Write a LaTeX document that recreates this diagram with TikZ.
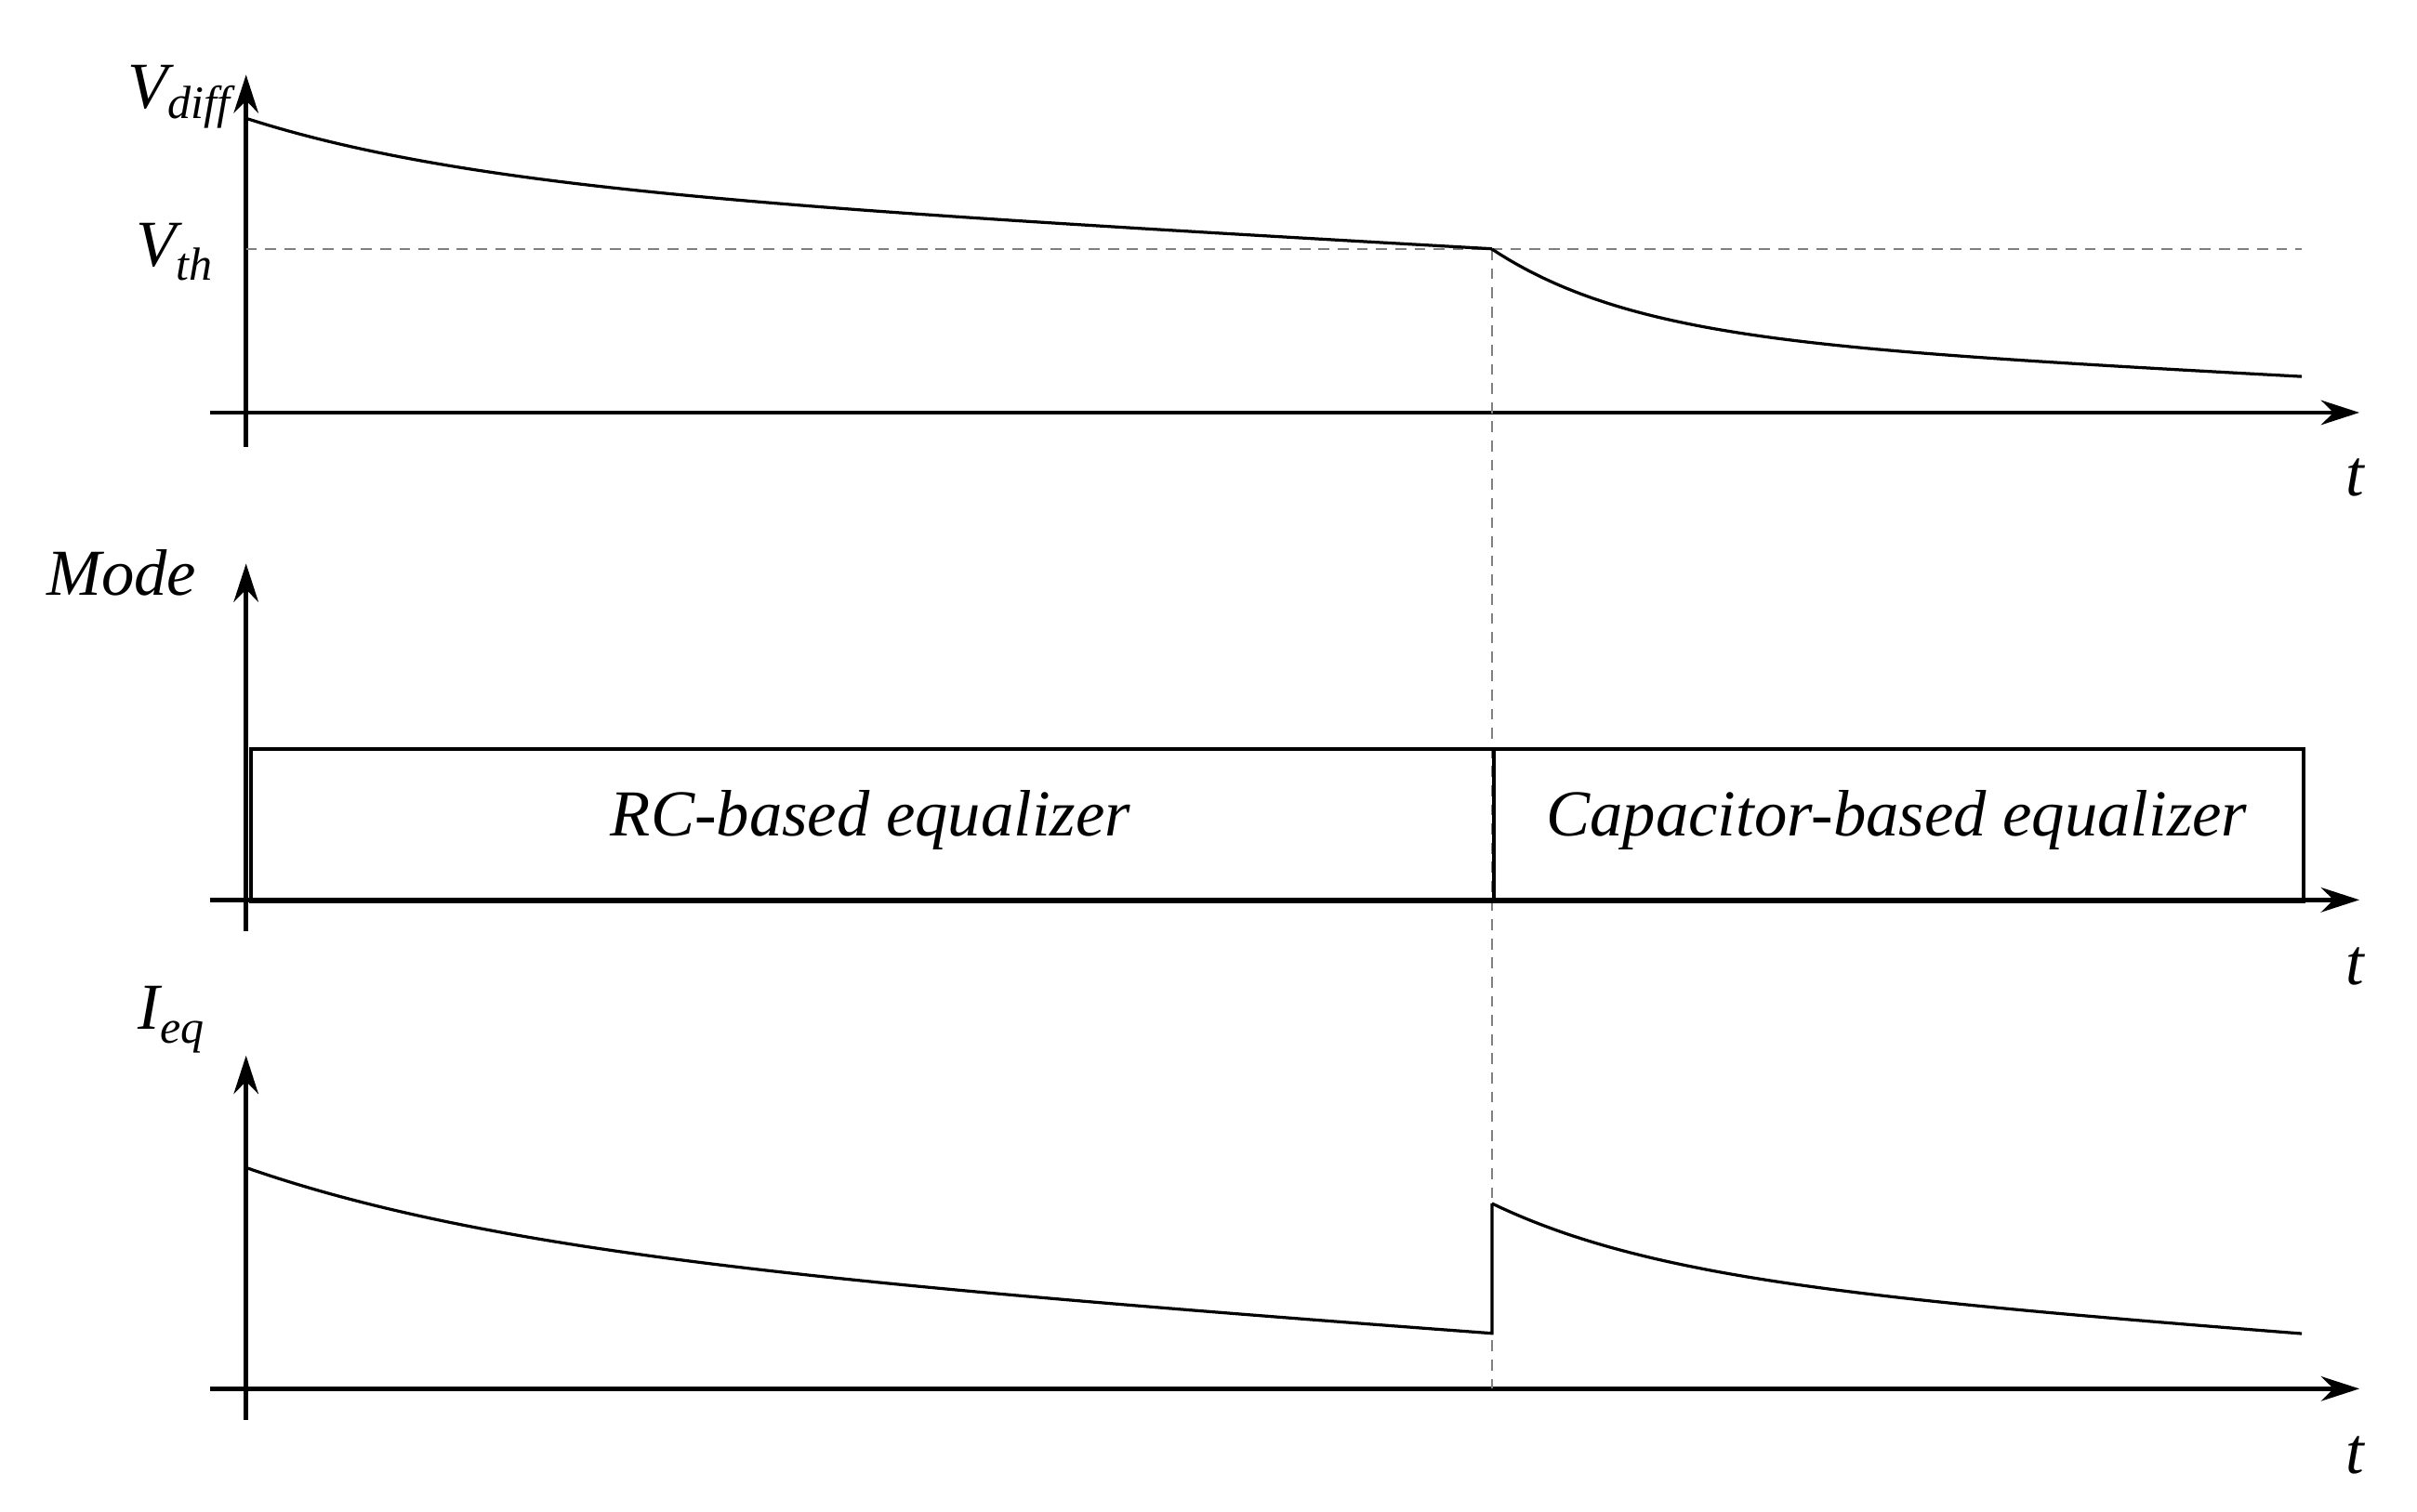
\documentclass[tikz,border=0pt]{standalone}
\usepackage{fontspec}
\setmainfont{Liberation Serif}
\usetikzlibrary{arrows.meta}
\begin{document}
\begin{tikzpicture}[x=0.02cm,y=-0.02cm,
  ax/.style={line width=1.6pt,-{Stealth[length=14pt,width=9pt]}},
  curve/.style={line width=1.1pt},
  dashln/.style={gray,line width=0.8pt,dash pattern=on 4pt off 3pt},
  lab/.style={font=\fontsize{24}{28}\selectfont\itshape,inner sep=0pt}]
\useasboundingbox (0,0) rectangle (1552,971);
% axes
\coordinate (a1s) at (158,287); \coordinate (a1e) at (158,48);
\coordinate (b1s) at (135,265); \coordinate (b1e) at (1515,265);
\coordinate (a2s) at (158,598); \coordinate (a2e) at (158,362);
\coordinate (b2s) at (135,578); \coordinate (b2e) at (1515,578);
\coordinate (a3s) at (158,912); \coordinate (a3e) at (158,678);
\coordinate (b3s) at (135,892); \coordinate (b3e) at (1515,892);
\draw[ax] (a1s) -- (a1e); \draw[ax] (b1s) -- (b1e);
\draw[ax] (a2s) -- (a2e); \draw[ax] (b2s) -- (b2e);
\draw[ax] (a3s) -- (a3e); \draw[ax] (b3s) -- (b3e);
% dashed
\coordinate (th0) at (158,160); \coordinate (th1) at (1478,160);
\coordinate (sw0) at (958,160); \coordinate (sw1) at (958,892);
\draw[dashln] (th0) -- (th1);
\draw[dashln] (sw0) -- (sw1);
% curves
\draw[curve] plot[domain=158:958,samples=120,variable=\x] ({\x},{160-40*exp(-(\x-158)/150)-44*((958-\x)/800)});
\draw[curve] plot[domain=958:1478,samples=100,variable=\x] ({\x},{242-55*exp(-(\x-958)/90)-27*((1478-\x)/520)});
\draw[curve] plot[domain=158:958,samples=120,variable=\x] ({\x},{857-50*exp(-(\x-158)/180)-57*((958-\x)/800)}) -- (958,773);
\draw[curve] plot[domain=958:1478,samples=100,variable=\x] ({\x},{857-45*exp(-(\x-958)/110)-39*((1478-\x)/520)});
% mode boxes
\node[draw,line width=1.4pt,minimum width=15.96cm,minimum height=1.96cm,anchor=north west,inner sep=0pt] (rc) at (160,480) {};
\node[draw,line width=1.4pt,minimum width=10.4cm,minimum height=1.96cm,anchor=north west,inner sep=0pt] (cap) at (958,480) {};
\node[lab] at (559,527) {RC-based equalizer};
\node[lab] at (1218,527) {Capacitor-based equalizer};
% labels
\node[lab] (t1) at (1512,307) {t};
\node[lab] (t2) at (1512,621) {t};
\node[lab] (t3) at (1512,935) {t};
\node[lab] (vd) at (115,62) {V\raisebox{-0.35ex}{\fontsize{17}{20}\selectfont diff}};
\node[lab] (vt) at (112,162) {V\raisebox{-0.45ex}{\fontsize{17}{20}\selectfont th}};
\node[lab] (md) at (78,368) {Mode};
\node[lab] (ie) at (110,655) {I\raisebox{-0.45ex}{\fontsize{17}{20}\selectfont eq}};
\end{tikzpicture}
\end{document}
